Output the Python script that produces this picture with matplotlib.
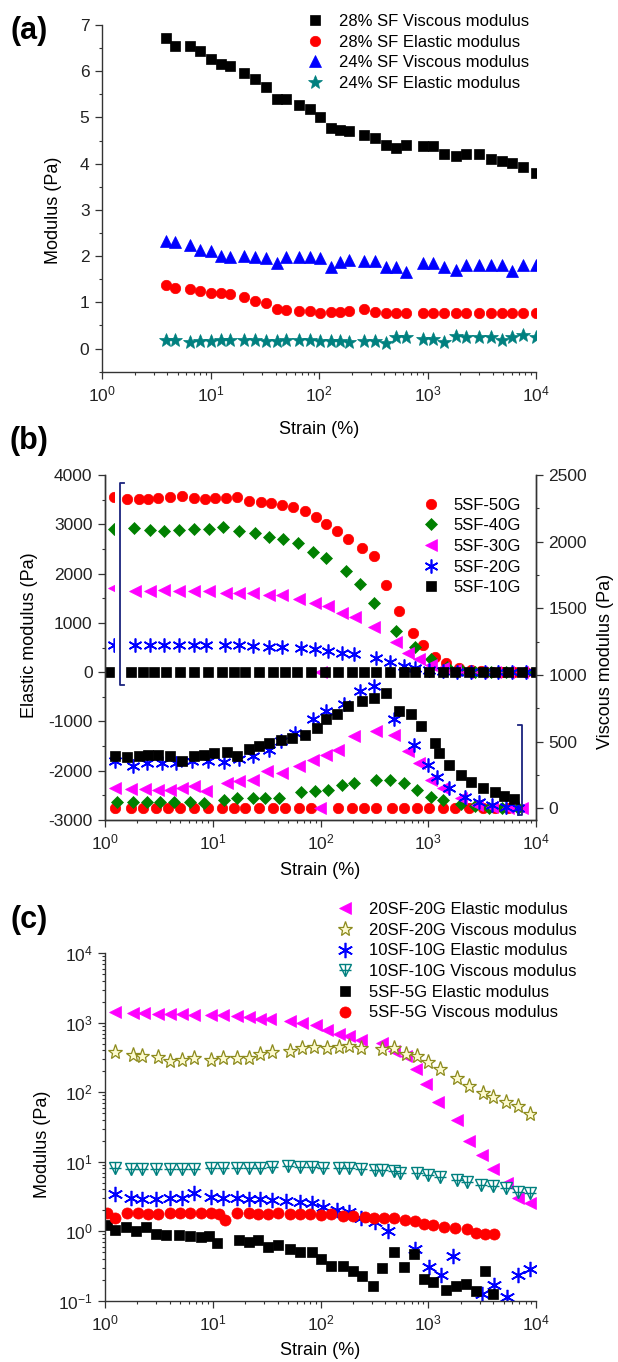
import numpy as np
import matplotlib
matplotlib.use('Agg')
import matplotlib.pyplot as plt
from matplotlib.lines import Line2D
from matplotlib.legend_handler import HandlerTuple
from matplotlib.transforms import blended_transform_factory
from matplotlib.patches import Rectangle
from matplotlib.ticker import MultipleLocator, LogLocator, NullFormatter

plt.rcParams.update({
    'font.family': ['Liberation Sans', 'DejaVu Sans'],
    'mathtext.fontset': 'custom',
    'mathtext.rm': 'Liberation Sans',
    'mathtext.it': 'Liberation Sans:italic',
    'mathtext.bf': 'Liberation Sans:bold',
    'axes.unicode_minus': False,
    'font.size': 12,
})

# ---------------- Panel (a) data ----------------
strain_a = [3.91, 4.67, 6.41, 8.04, 10.1, 12.5, 15.2, 20.2, 25.5, 32.2, 40.9, 49.5,
            65.7, 83, 102.5, 128.6, 156.7, 190.9, 261, 329, 415, 515, 635, 900, 1130,
            1420, 1850, 2280, 3000, 3820, 4820, 5980, 7540, 10000]
visc28_a = [6.71, 6.55, 6.55, 6.44, 6.26, 6.15, 6.12, 5.97, 5.84, 5.65, 5.39, 5.39,
            5.28, 5.18, 5.02, 4.78, 4.73, 4.71, 4.63, 4.56, 4.40, 4.34, 4.40, 4.38, 4.38,
            4.22, 4.16, 4.20, 4.20, 4.11, 4.06, 4.02, 3.93, 3.80]
elas28_a = [1.38, 1.30, 1.28, 1.25, 1.21, 1.21, 1.18, 1.12, 1.03, 0.99, 0.85, 0.83,
            0.81, 0.81, 0.77, 0.80, 0.80, 0.81, 0.85, 0.80, 0.78, 0.77, 0.77, 0.78, 0.78,
            0.76, 0.78, 0.77, 0.78, 0.78, 0.78, 0.78, 0.78, 0.78]
visc24_a = [2.32, 2.30, 2.24, 2.14, 2.12, 2.01, 1.99, 2.01, 1.99, 1.96, 1.85, 1.99,
            1.99, 1.98, 1.96, 1.77, 1.88, 1.92, 1.90, 1.90, 1.77, 1.77, 1.65, 1.85, 1.85,
            1.77, 1.70, 1.81, 1.81, 1.81, 1.80, 1.67, 1.81, 1.80]
elas24_a = [0.18, 0.18, 0.145, 0.16, 0.16, 0.18, 0.195, 0.195, 0.18, 0.16, 0.16, 0.18,
            0.18, 0.18, 0.17, 0.17, 0.17, 0.145, 0.17, 0.17, 0.13, 0.25, 0.24, 0.20, 0.20,
            0.145, 0.27, 0.25, 0.25, 0.24, 0.18, 0.25, 0.29, 0.24]
labels_a = ['28% SF Viscous modulus', '28% SF Elastic modulus',
            '24% SF Viscous modulus', '24% SF Elastic modulus']

# ---------------- Panel (b) data ----------------
# Elastic modulus (left axis)
x_b50_e = [1.22, 1.59, 2.05, 2.53, 3.13, 4.03, 5.2, 6.7, 8.48, 10.4, 13.2, 16.96, 21.8,
           28.2, 34.8, 43.7, 55.3, 71.3, 90.3, 113.5, 142.6, 180.6, 242.8, 313, 403, 533,
           728, 885, 1159, 1468, 1924, 2478, 3061, 3945, 4872, 6278, 8090]
y_b50_e = [3547, 3513, 3513, 3513, 3527, 3560, 3574, 3540, 3513, 3527, 3540, 3547, 3479,
           3445, 3425, 3391, 3358, 3270, 3141, 3006, 2871, 2702, 2512, 2357, 1768, 1247,
           788, 551, 314, 179, 77, 44, 30, 10, 5, 5, 5]
x_b40_e = [1.22, 1.85, 2.60, 3.55, 4.86, 6.7, 9.15, 12.4, 17.7, 24.8, 33.3, 44.8, 61.2,
           84.5, 113.5, 173, 233, 313, 498, 760, 1066, 1494, 2009, 2700, 3785, 5309, 8090]
y_b40_e = [2900, 2918, 2884, 2871, 2884, 2898, 2898, 2938, 2871, 2816, 2749, 2695, 2614,
           2444, 2323, 2059, 1782, 1410, 835, 517, 260, 111, 44, 10, 5, 5, 5]
x_b30_e = [1.22, 1.89, 2.60, 3.55, 4.86, 6.7, 9.15, 13.2, 17.7, 23.8, 33.3, 43.7, 62.8,
           88.1, 101, 116.4, 159, 208, 313, 498, 642, 827, 1066, 1374, 1770, 2280, 3061,
           4121, 5534, 7440]
y_b30_e = [1700, 1653, 1653, 1667, 1653, 1653, 1653, 1613, 1613, 1599, 1565, 1565, 1477,
           1410, 0, 1342, 1207, 1112, 923, 619, 382, 260, 145, 77, 44, 10, 5, 5, 5, 5]
x_b20_e = [1.22, 1.89, 2.60, 3.55, 4.86, 6.7, 8.61, 12.9, 17.7, 23.8, 33.3, 43.7, 65.6,
           88.1, 118, 159, 205, 329, 439, 590, 760, 1021, 1374, 1846, 2479, 3336, 4480,
           6030, 8090]
y_b20_e = [560, 551, 551, 551, 551, 551, 551, 551, 551, 531, 517, 517, 483, 463, 436, 395,
           368, 280, 213, 125, 77, 44, 30, 10, 5, 5, 5, 5, 5]
x_b10_e = [1.09, 1.73, 2.23, 2.87, 3.71, 4.98, 6.69, 9.0, 12.1, 15.6, 20.1, 27.0, 36.3,
           46.7, 60.2, 80.9, 109, 146, 197, 253, 326, 439, 590, 760, 1021, 1374, 1770,
           2379, 3199, 4121, 5534, 7440, 10000]
y_b10_e = [8, 8, 8, 8, 8, 8, 8, 8, 8, 8, 8, 8, 8, 8, 8, 8, 8, 8, 8, 8, 8, 8,
           8, 8, 8, 8, 8, 8, 8, 8, 8, 8, 8]
# Viscous modulus (right axis)
x_b50_v = [1.24, 1.73, 2.23, 3.0, 3.87, 4.98, 6.69, 9.0, 12.1, 15.6, 20.1, 27.0, 36.3,
           46.7, 62.8, 80.9, 146, 197, 253, 326, 458, 590, 792, 1021, 1374, 1770, 2379,
           3199, 4121, 5534]
y_b50_v = [3, 3, 3, 3, 3, 3, 3, 3, 3, 3, 3, 3, 3, 3, 3, 3, 3, 3, 3, 3, 3, 3, 3, 3, 3, 3,
           3, 3, 3, 3]
x_b40_v = [1.29, 1.81, 2.43, 3.26, 4.39, 6.15, 8.27, 12.6, 16.96, 23.8, 30.6, 41.2, 65.6,
           88.1, 118, 159, 205, 326, 439, 590, 792, 1066, 1374, 2009, 2700, 3630, 4872,
           6840]
y_b40_v = [50, 50, 50, 50, 50, 50, 38, 63, 75, 75, 80, 80, 121, 126, 138, 176, 188, 214,
           214, 188, 138, 88, 63, 30, 18, 5, 0, 0]
x_b30_v = [1.24, 1.73, 2.33, 3.13, 4.03, 5.2, 6.69, 8.61, 13.7, 17.7, 23.8, 32.0, 43.7,
           62.8, 84.5, 98, 113.5, 146, 205, 326, 478, 642, 827, 1066, 1374, 2009, 2827,
           3945, 5534, 7440]
y_b30_v = [151, 143, 143, 138, 138, 151, 168, 126, 188, 201, 214, 276, 264, 314, 364, 0,
           402, 440, 540, 578, 553, 427, 339, 214, 151, 75, 25, 13, 0, 0]
x_b20_v = [1.24, 1.81, 2.43, 3.40, 4.56, 6.4, 9.0, 12.6, 17.7, 23.8, 33.3, 42.9, 57.6,
           84.5, 113.5, 166, 233, 313, 478, 742, 1000, 1207, 1555, 2184, 2937, 3945,
           5300, 6840]
y_b20_v = [352, 314, 339, 339, 339, 352, 352, 347, 372, 389, 440, 503, 565, 666, 729, 779,
           879, 917, 671, 477, 327, 231, 151, 88, 45, 25, 13, 0]
x_b10_v = [1.24, 1.59, 2.05, 2.53, 3.13, 4.03, 5.2, 6.69, 8.27, 10.2, 13.7, 16.96, 21.8,
           27.0, 33.3, 42.9, 54.5, 71.3, 92.0, 113.5, 142.6, 180.6, 243, 313, 403, 531,
           696, 862, 1159, 1260, 1570, 2000, 2480, 3200, 4120, 5080, 6280]
y_b10_v = [394, 382, 389, 402, 402, 394, 352, 389, 402, 415, 420, 389, 445, 465, 490, 515,
           528, 553, 603, 671, 704, 766, 804, 824, 867, 729, 704, 616, 490, 415, 327, 251,
           196, 151, 121, 95, 70]
labels_b = ['5SF-50G', '5SF-40G', '5SF-30G', '5SF-20G', '5SF-10G']

# ---------------- Panel (c) data ----------------
x_c20_e = [1.23, 1.80, 2.32, 3.11, 4.01, 5.16, 6.63, 9.69, 12.5, 16.7, 21.5, 27.7, 34.2,
           52.1, 67, 90, 116, 149, 184, 237, 376, 484, 623, 769, 949, 1241, 1859, 2392,
           3132, 3964, 5410, 6850, 8820]
y_c20_e = [1429, 1396, 1396, 1349, 1349, 1320, 1306, 1306, 1277, 1249, 1208, 1143, 1118,
           1045, 989, 915, 800, 693, 655, 573, 507, 397, 336, 215, 131, 72.4, 39.3, 19.7,
           12.6, 7.83, 4.91, 2.97, 2.52]
x_c20_v = [1.25, 1.80, 2.22, 3.11, 4.01, 5.16, 6.63, 9.69, 12.5, 16.7, 21.5, 27.7, 35.7,
           52.1, 67, 86.3, 116, 149, 184, 237, 376, 484, 623, 789, 989, 1274, 1859, 2392,
           3214, 3964, 5320, 6850, 8820]
y_c20_v = [385, 344, 336, 318, 284, 291, 308, 294, 308, 311, 308, 356, 376, 397, 430, 454,
           434, 444, 459, 430, 420, 430, 356, 329, 275, 215, 163, 124, 99, 86.5, 72.4,
           63.4, 48]
x_c10_e = [1.23, 1.73, 2.22, 2.98, 4.01, 5.16, 6.63, 9.69, 12.5, 16.7, 21.5, 27.7, 35.7,
           47.8, 64.3, 82.9, 106, 143, 184, 237, 318, 426, 753, 1021, 1303, 1708, 3130,
           4100, 5410, 6850, 8790]
y_c10_e = [3.40, 2.97, 2.88, 2.88, 2.97, 2.97, 3.59, 3.08, 2.97, 2.97, 2.88, 2.88, 2.81,
           2.75, 2.66, 2.52, 2.25, 2.02, 1.91, 1.53, 1.37, 1.01, 0.561, 0.31, 0.235, 0.44,
           0.125, 0.169, 0.112, 0.235, 0.29]
x_c10_v = [1.23, 1.73, 2.22, 2.98, 4.01, 5.16, 6.63, 9.69, 12.5, 16.7, 21.5, 27.7, 35.7,
           49.9, 64.3, 82.9, 106, 149, 184, 237, 318, 376, 484, 549, 789, 989, 1274, 1859,
           2286, 3055, 3964, 5320, 6850, 8820]
y_c10_v = [8.09, 7.83, 7.83, 7.83, 7.83, 7.83, 7.83, 8.09, 8.09, 8.09, 8.09, 8.09, 8.37,
           8.56, 8.37, 8.37, 8.09, 8.09, 8.09, 7.92, 7.66, 7.66, 7.25, 6.86, 6.86, 6.49,
           6.13, 5.48, 5.19, 4.64, 4.49, 4.15, 3.71, 3.51]
x_c5_e = [1.04, 1.23, 1.56, 1.96, 2.42, 3.0, 3.7, 4.9, 6.1, 7.8, 9.3, 11.0, 17.4, 21.5,
          26.5, 32.8, 40.5, 52.1, 64.3, 82.9, 101.9, 125.7, 162, 200, 243, 304, 376, 484,
          595, 737, 913, 1114, 1452, 1796, 2240, 2773, 3363, 4015]
y_c5_e = [1.22, 1.03, 1.16, 1.01, 1.16, 0.905, 0.875, 0.875, 0.847, 0.828, 0.847, 0.678,
          0.741, 0.70, 0.741, 0.593, 0.627, 0.561, 0.50, 0.50, 0.40, 0.321, 0.321, 0.272,
          0.223, 0.165, 0.30, 0.50, 0.31, 0.465, 0.204, 0.183, 0.142, 0.161, 0.173, 0.139,
          0.268, 0.125]
x_c5_v = [1.04, 1.23, 1.59, 2.04, 2.52, 3.11, 4.01, 4.94, 6.10, 7.85, 9.69, 11.4, 13.0,
          16.7, 21.5, 26.5, 32.8, 40.5, 52.1, 64.3, 79.3, 101.9, 125.7, 162, 200, 257, 317,
          392, 483, 608, 753, 913, 1114, 1400, 1771, 2274, 2773, 3363, 4100]
y_c5_v = [1.85, 1.53, 1.85, 1.84, 1.76, 1.76, 1.80, 1.84, 1.84, 1.84, 1.80, 1.76, 1.45,
          1.84, 1.80, 1.76, 1.76, 1.84, 1.76, 1.76, 1.76, 1.71, 1.76, 1.65, 1.65, 1.61,
          1.53, 1.53, 1.53, 1.47, 1.39, 1.25, 1.21, 1.16, 1.12, 1.08, 0.95, 0.90, 0.90]
labels_c = ['20SF-20G Elastic modulus', '20SF-20G Viscous modulus',
            '10SF-10G Elastic modulus', '10SF-10G Viscous modulus',
            '5SF-5G Elastic modulus', '5SF-5G Viscous modulus']

# ---------------- styling ----------------
BLACK = '#000000'
RED = '#ff0000'
BLUE = '#0000ff'
TEAL = '#00807f'
GREEN = '#008000'
MAGENTA = '#ff00ff'
OLIVE = '#8c8a1c'
NAVY = '#1a237e'
AX = '#333333'
ASTER = (6, 2, 0)

W, H = 618, 1362
fig = plt.figure(figsize=(W / 100, H / 100), dpi=100)


def box(l, t, r, b):
    return [l / W, 1 - b / H, (r - l) / W, (b - t) / H]


def style(ax, spines=('left', 'bottom')):
    for s in ['left', 'right', 'top', 'bottom']:
        ax.spines[s].set_visible(s in spines)
        ax.spines[s].set_color(AX)
        ax.spines[s].set_linewidth(1.0)
    ax.tick_params(which='both', direction='out', colors=AX, labelcolor='#222222',
                   labelsize=12.5)
    ax.tick_params(which='major', length=5, width=0.9, pad=4)
    ax.tick_params(which='minor', length=2.5, width=0.8)


def logx(ax):
    ax.set_xscale('log')
    ax.set_xlim(1, 1e4)
    ax.xaxis.set_major_locator(LogLocator(base=10, numticks=10))
    ax.xaxis.set_minor_locator(LogLocator(base=10, subs=np.arange(2, 10), numticks=20))
    ax.xaxis.set_minor_formatter(NullFormatter())


LEG = dict(loc='upper left', frameon=False, fontsize=12, handlelength=1.0,
           labelspacing=0.34, borderpad=0, borderaxespad=0)

# ======== Panel (a) ========
axa = fig.add_axes(box(102, 25, 536, 371.7))
style(axa)
logx(axa)
axa.set_ylim(-0.5, 7)
axa.yaxis.set_major_locator(MultipleLocator(1))
axa.yaxis.set_minor_locator(MultipleLocator(0.5))
ha = []
ha.append(axa.plot(strain_a, visc28_a, 's', color=BLACK, ms=7, mew=0.5, ls='none')[0])
ha.append(axa.plot(strain_a, elas28_a, 'o', color=RED, ms=7.5, mew=0.5, ls='none')[0])
ha.append(axa.plot(strain_a, visc24_a, '^', color=BLUE, ms=8, mew=0.5, ls='none')[0])
ha.append(axa.plot(strain_a, elas24_a, '*', color=TEAL, ms=10, mew=0.5, ls='none')[0])
axa.set_xlabel('Strain (%)', fontsize=13)
axa.set_ylabel('Modulus (Pa)', fontsize=13)
axa.xaxis.set_label_coords(0.5, -0.168)
axa.xaxis.label.set_va('center')
axa.yaxis.set_label_coords(-0.112, 0.466)
axa.yaxis.label.set_va('center')
fig.legend(ha, labels_a, bbox_to_anchor=(306.7 / W, 1 - 14 / H), handletextpad=0.94,
           **LEG)

# ======== Panel (b) ========
axb = fig.add_axes(box(105, 475, 536, 820))
style(axb, spines=('left', 'bottom', 'right'))
logx(axb)
axb.set_ylim(-3000, 4000)
axb.yaxis.set_major_locator(MultipleLocator(1000))
axb.yaxis.set_minor_locator(MultipleLocator(500))
axr = axb.twinx()
style(axr, spines=('left', 'bottom', 'right'))
axr.set_ylim(-88, 2500)
axr.yaxis.set_major_locator(MultipleLocator(500))
axr.yaxis.set_minor_locator(MultipleLocator(250))
axr.tick_params(which='both', left=False, right=True, labelleft=False, labelright=True,
                bottom=False)

hb = []
hb.append(axb.plot(x_b50_e, y_b50_e, 'o', color=RED, ms=7.5, mew=0.5, ls='none')[0])
hb.append(axb.plot(x_b40_e, y_b40_e, 'D', color=GREEN, ms=6.5, mew=0.5, ls='none')[0])
hb.append(axb.plot(x_b30_e, y_b30_e, '<', color=MAGENTA, ms=8.5, mew=0.5, ls='none')[0])
hb.append(axb.plot(x_b20_e, y_b20_e, marker=ASTER, color=BLUE, ms=10, mew=1.2, ls='none')[0])
hb.append(axb.plot(x_b10_e, y_b10_e, 's', color=BLACK, ms=7, mew=0.5, ls='none')[0])
axr.plot(x_b50_v, y_b50_v, 'o', color=RED, ms=7.5, mew=0.5, ls='none')
axr.plot(x_b40_v, y_b40_v, 'D', color=GREEN, ms=6.5, mew=0.5, ls='none')
axr.plot(x_b30_v, y_b30_v, '<', color=MAGENTA, ms=8.5, mew=0.5, ls='none')
axr.plot(x_b20_v, y_b20_v, marker=ASTER, color=BLUE, ms=10, mew=1.2, ls='none')
axr.plot(x_b10_v, y_b10_v, 's', color=BLACK, ms=7, mew=0.5, ls='none')

# bracket annotations
tl = blended_transform_factory(axb.transAxes, axb.transData)
axb.add_patch(Rectangle((0.0235, -300), 0.013, 4200, transform=tl, color='white',
                        zorder=2.5, lw=0))
axb.plot([0.045, 0.035, 0.035, 0.045], [3832, 3832, -260, -260], transform=tl,
         color=NAVY, lw=1.3, zorder=3, clip_on=False)
tr = blended_transform_factory(axr.transAxes, axr.transData)
axr.plot([0.958, 0.968, 0.968, 0.958], [623, 623, -50, -50], transform=tr,
         color=NAVY, lw=1.3, zorder=3, clip_on=False)

axb.set_xlabel('Strain (%)', fontsize=13)
axb.set_ylabel('Elastic modulus (Pa)', fontsize=13)
axr.set_ylabel('Viscous modulus (Pa)', fontsize=13, rotation=90)
axb.xaxis.set_label_coords(0.5, -0.145)
axb.xaxis.label.set_va('center')
axb.yaxis.set_label_coords(-0.176, 0.536)
axb.yaxis.label.set_va('center')
axr.yaxis.set_label_coords(1.162, 0.461)
axr.yaxis.label.set_va('center')
fig.legend(hb, labels_b, bbox_to_anchor=(422.7 / W, 1 - 497.5 / H), handletextpad=0.82,
           **LEG)

# ======== Panel (c) ========
axc = fig.add_axes(box(105, 953.3, 536, 1300.7))
style(axc)
logx(axc)
axc.set_yscale('log')
axc.set_ylim(0.1, 1e4)
axc.yaxis.set_major_locator(LogLocator(base=10, numticks=10))
axc.yaxis.set_minor_locator(LogLocator(base=10, subs=np.arange(2, 10), numticks=20))
axc.yaxis.set_minor_formatter(NullFormatter())

h1 = axc.plot(x_c20_e, y_c20_e, '<', color=MAGENTA, ms=9, mew=0.5, ls='none')[0]
h2 = axc.plot(x_c20_v, y_c20_v, '*', mfc='#fdfbd0', mec=OLIVE, ms=11, mew=0.9, ls='none')[0]
h3 = axc.plot(x_c10_e, y_c10_e, marker=ASTER, color=BLUE, ms=11, mew=1.2, ls='none')[0]
h4a = axc.plot(x_c10_v, y_c10_v, 'v', mfc='white', mec=TEAL, ms=9, mew=1.0, ls='none')[0]
h4b = axc.plot(x_c10_v, y_c10_v, '+', color=TEAL, ms=8, mew=1.0, ls='none')[0]
h5 = axc.plot(x_c5_e, y_c5_e, 's', color=BLACK, ms=7.5, mew=0.5, ls='none')[0]
h6 = axc.plot(x_c5_v, y_c5_v, 'o', color=RED, ms=8, mew=0.5, ls='none')[0]

axc.set_xlabel('Strain (%)', fontsize=13)
axc.set_ylabel('Modulus (Pa)', fontsize=13)
axc.xaxis.set_label_coords(0.5, -0.142)
axc.xaxis.label.set_va('center')
axc.yaxis.set_label_coords(-0.144, 0.451)
axc.yaxis.label.set_va('center')
fig.legend([h1, h2, h3, (h4a, h4b), h5, h6], labels_c,
           bbox_to_anchor=(336.7 / W, 1 - 902 / H), handletextpad=0.94,
           handler_map={tuple: HandlerTuple(ndivide=1)}, **LEG)

# panel tags
for tag, yc in [('(a)', 31), ('(b)', 441), ('(c)', 920)]:
    fig.text(29 / W, 1 - yc / H, tag, fontsize=22, fontweight='bold', ha='center',
             va='center')

fig.savefig('out.png', dpi=100)
